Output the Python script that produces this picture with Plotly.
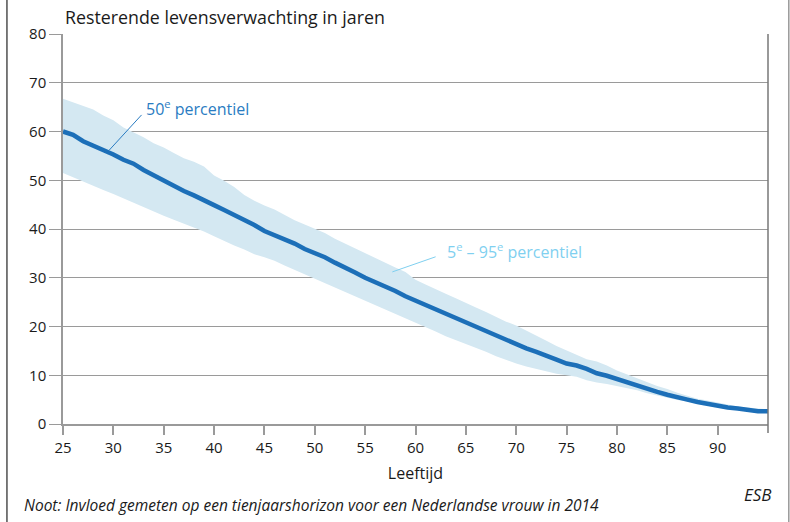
import plotly.graph_objects as go

ages = list(range(25, 96))
median = [60.0, 59.3, 58.0, 57.1, 56.4, 55.3, 54.2, 53.4, 52.1, 51.0,
          50.1, 48.9, 47.8, 46.9, 46.0, 44.9, 43.9, 42.9, 42.0, 40.8,
          39.6, 38.8, 38.0, 37.0, 35.9, 35.1, 34.2, 33.1, 32.2, 31.1,
          30.0, 29.1, 28.4, 27.3, 26.2, 25.3, 24.4, 23.5, 22.6, 21.7,
          20.8, 19.9, 19.1, 18.2, 17.3, 16.3, 15.5, 14.8, 14.1, 13.2,
          12.4, 12.0, 11.3, 10.4, 9.9, 9.2, 8.5, 7.8, 7.3, 6.6,
          6.0, 5.4, 5.0, 4.5, 4.1, 3.6, 3.4, 3.2, 2.8, 2.6, 2.6]
upper = [66.7, 66.0, 65.3, 64.5, 63.3, 62.3, 60.8, 59.8, 58.8, 57.6,
         56.7, 55.6, 54.5, 53.8, 52.8, 51.0, 49.9, 48.6, 47.0, 45.8,
         44.8, 44.0, 42.9, 41.8, 40.9, 40.0, 39.2, 38.0, 37.0, 36.0,
         35.0, 34.0, 33.0, 32.1, 31.2, 29.6, 28.6, 27.6, 26.7, 25.8,
         24.8, 23.9, 23.0, 22.0, 21.0, 20.2, 19.2, 18.1, 17.1, 16.0,
         15.1, 14.3, 13.3, 12.8, 12.0, 11.0, 10.2, 9.4, 8.6, 7.8,
         7.2, 6.4, 5.8, 5.2, 4.8, 4.4, 4.0, 3.6, 3.4, 3.2, 3.0]
lower = [51.5, 50.6, 49.8, 48.8, 48.0, 47.2, 46.3, 45.3, 44.5, 43.6,
         42.7, 41.9, 41.1, 40.3, 39.5, 38.5, 37.5, 36.6, 35.8, 34.8,
         34.2, 33.5, 32.5, 31.6, 30.8, 29.9, 29.0, 28.0, 27.1, 26.2,
         25.4, 24.5, 23.6, 22.6, 21.8, 20.9, 20.0, 19.0, 18.0, 17.2,
         16.5, 15.6, 14.8, 13.9, 13.1, 12.4, 11.8, 11.3, 10.8, 10.3,
         10.0, 9.7, 9.0, 8.5, 8.2, 7.8, 7.3, 6.9, 6.3, 5.8,
         5.4, 4.9, 4.6, 4.2, 3.8, 3.5, 3.3, 2.9, 2.7, 2.5, 2.3]

x_ticks = list(range(25, 95, 5))
y_ticks = list(range(0, 90, 10))

FONT = "Open Sans"
GRID = "#9a9a9a"

fig = go.Figure()
fig.add_trace(go.Scatter(x=ages, y=lower, mode="lines", line=dict(width=0),
                         hoverinfo="skip", showlegend=False))
fig.add_trace(go.Scatter(x=ages, y=upper, mode="lines", line=dict(width=0),
                         fill="tonexty", fillcolor="#d4e8f2",
                         hoverinfo="skip", showlegend=False))
fig.add_trace(go.Scatter(x=ages, y=median, mode="lines",
                         line=dict(color="#1c6fb8", width=4.5),
                         showlegend=False))

fig.update_layout(
    width=790, height=522,
    margin=dict(l=63, r=22, t=34, b=98),
    paper_bgcolor="white", plot_bgcolor="white",
    font=dict(family=FONT, size=14, color="#1a1a1a"),
    xaxis=dict(range=[25, 95], tickvals=x_ticks, showgrid=False,
               showline=True, linecolor=GRID, linewidth=1.5,
               ticks="outside", ticklen=9, tickcolor=GRID, tickwidth=1.5,
               zeroline=False, tickfont=dict(size=15),
               title=dict(text="Leeftijd", font=dict(size=16), standoff=12)),
    yaxis=dict(range=[0, 80], tickvals=y_ticks, showgrid=True,
               gridcolor=GRID, gridwidth=1.2,
               showline=True, linecolor=GRID, linewidth=1.5,
               ticks="outside", ticklen=12, tickcolor=GRID, tickwidth=1.2,
               zeroline=False, tickfont=dict(size=15)),
)

# right plot border, extending a bit below the axis
fig.add_shape(type="line", xref="paper", yref="paper", x0=1, x1=1, y0=-0.023, y1=1,
              line=dict(color="#777777", width=1.5))
# outer frame lines
fig.add_shape(type="line", xref="paper", yref="paper", x0=-0.0795, x1=-0.0795,
              y0=-0.26, y1=1.1, line=dict(color="#222222", width=1.2))
fig.add_shape(type="line", xref="paper", yref="paper", x0=1.0295, x1=1.0295,
              y0=-0.26, y1=1.1, line=dict(color="#999999", width=1.5))

# leader lines
fig.add_shape(type="line", x0=29.6, y0=56.2, x1=32.8, y1=63.4,
              line=dict(color="#2a7cc2", width=1))
fig.add_shape(type="line", x0=57.7, y0=31.2, x1=62.0, y1=34.3,
              line=dict(color="#7fd0f0", width=1))

fig.add_annotation(x=33.0, y=64.9, xanchor="left", yanchor="middle", showarrow=False,
                   text="50<sup>e</sup> percentiel",
                   font=dict(size=16, color="#2a7cc2", family=FONT))
fig.add_annotation(x=62.9, y=35.5, xanchor="left", yanchor="middle", showarrow=False,
                   text="5<sup>e</sup> – 95<sup>e</sup> percentiel",
                   font=dict(size=16, color="#7fd0f0", family=FONT))

fig.add_annotation(xref="paper", yref="paper", x=0, y=1, yshift=3,
                   xanchor="left", yanchor="bottom", showarrow=False,
                   text="Resterende levensverwachting in jaren",
                   font=dict(size=17.8, color="#1a1a1a", family=FONT))
fig.add_annotation(xref="paper", yref="paper", x=-0.058, y=-0.208,
                   xanchor="left", yanchor="middle", showarrow=False,
                   text="<i>Noot: Invloed gemeten op een tienjaarshorizon voor een Nederlandse vrouw in 2014</i>",
                   font=dict(size=15.5, color="#1a1a1a", family=FONT))
fig.add_annotation(xref="paper", yref="paper", x=1.0085, y=-0.182,
                   xanchor="right", yanchor="middle", showarrow=False,
                   text="<i>ESB</i>",
                   font=dict(size=17, color="#1a1a1a", family=FONT))

fig.write_html("out.html", config={"displayModeBar": False},
               post_script="document.body.style.margin='0';")
